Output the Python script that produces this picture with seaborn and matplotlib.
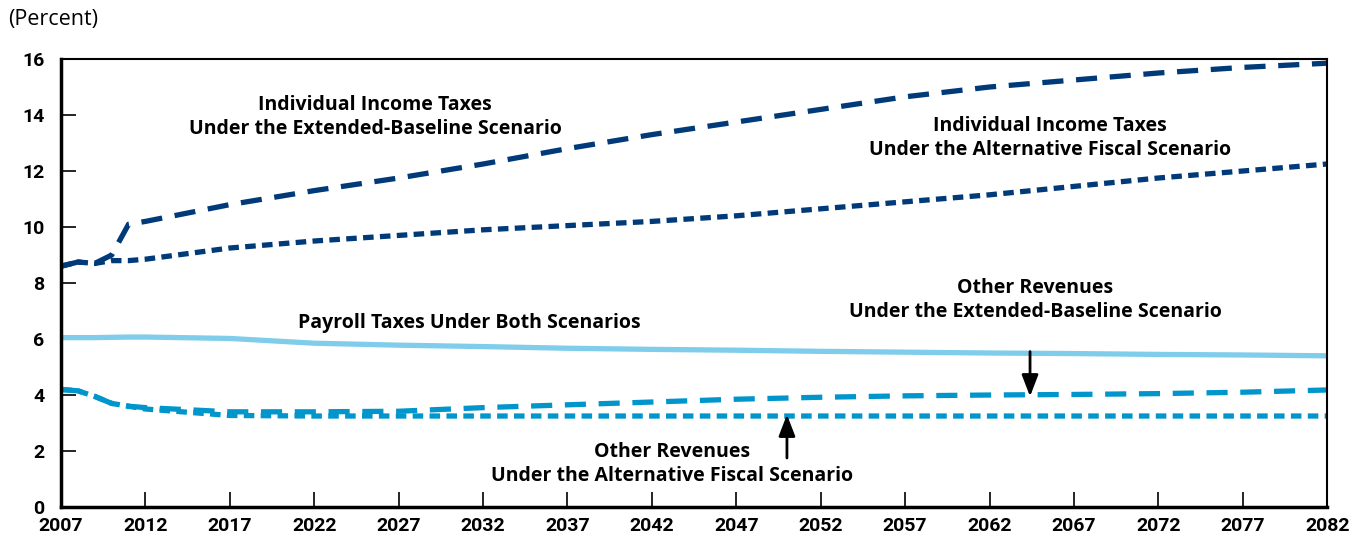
import matplotlib.pyplot as plt
import pandas as pd
import seaborn as sns

years = [2007, 2008, 2009, 2010, 2011, 2012, 2017, 2022, 2027, 2032,
         2037, 2042, 2047, 2052, 2057, 2062, 2067, 2072, 2077, 2082]

income_ext = [8.6, 8.75, 8.7, 9.0, 10.1, 10.2, 10.8, 11.3, 11.75, 12.25,
              12.8, 13.3, 13.75, 14.2, 14.65, 15.0, 15.25, 15.5, 15.7, 15.85]
income_alt = [8.6, 8.75, 8.7, 8.8, 8.8, 8.85, 9.25, 9.5, 9.7, 9.9,
              10.05, 10.2, 10.4, 10.65, 10.9, 11.15, 11.45, 11.75, 12.0, 12.25]
payroll = [6.05, 6.05, 6.05, 6.06, 6.07, 6.07, 6.02, 5.85, 5.78, 5.73,
           5.67, 5.63, 5.6, 5.56, 5.53, 5.5, 5.48, 5.45, 5.43, 5.4]
other_ext = [4.2, 4.15, 3.95, 3.7, 3.6, 3.55, 3.4, 3.4, 3.42, 3.55,
             3.65, 3.75, 3.85, 3.92, 3.97, 4.0, 4.02, 4.05, 4.1, 4.18]
other_alt = [4.2, 4.15, 3.95, 3.7, 3.6, 3.5, 3.27, 3.25, 3.25, 3.25,
             3.25, 3.25, 3.25, 3.25, 3.25, 3.25, 3.25, 3.25, 3.25, 3.25]

xticks = list(range(2007, 2083, 5))
yticks = list(range(0, 17, 2))

navy = "#003a78"
mid_blue = "#0096cb"
light_blue = "#7fcdeb"

sns.set_style("ticks")
plt.rcParams["font.family"] = ["Open Sans", "DejaVu Sans"]
plt.rcParams["text.color"] = "black"

fig = plt.figure(figsize=(13.57, 5.54), dpi=100)
ax = fig.add_axes([0.045, 0.0848, 0.933, 0.8087])

df = pd.DataFrame({"year": years})
series = [
    (payroll, light_blue, None),
    (other_ext, mid_blue, (4, 2.4)),
    (other_alt, mid_blue, (2, 1.2)),
    (income_ext, navy, (4, 2.4)),
    (income_alt, navy, (2, 1.2)),
]
for vals, color, dash in series:
    sns.lineplot(x=df["year"], y=vals, ax=ax, color=color, lw=3.8)
    ln = ax.lines[-1]
    if dash:
        ln.set_dashes(dash)
    ln.set_solid_capstyle("butt")
    ln.set_dash_capstyle("butt")

ax.set_xlim(2007, 2082)
ax.set_ylim(0, 16)
ax.set_xticks(xticks)
ax.set_yticks(yticks)
ax.set_xlabel("")
ax.set_ylabel("")
ax.tick_params(axis="both", which="major", direction="in", length=11, width=1.2,
               color="black", labelcolor="black", bottom=True, left=True,
               top=False, right=False)
ax.tick_params(axis="x", pad=7)
ax.tick_params(axis="y", pad=12)
for lab in ax.get_xticklabels() + ax.get_yticklabels():
    lab.set_fontweight("bold")
    lab.set_fontsize(14)
    lab.set_family(["Liberation Sans Narrow", "Roboto", "DejaVu Sans"])

for side in ["left", "bottom"]:
    ax.spines[side].set_linewidth(2.5)
for side in ["top", "right"]:
    ax.spines[side].set_linewidth(1.5)
for sp in ax.spines.values():
    sp.set_color("black")
    sp.set_visible(True)

fs = 14
kw = dict(ha="center", va="center", fontsize=fs, fontweight="bold", linespacing=1.3)
ax.text(2025.6, 13.93, "Individual Income Taxes\nUnder the Extended-Baseline Scenario", **kw)
ax.text(2065.6, 13.18, "Individual Income Taxes\nUnder the Alternative Fiscal Scenario", **kw)
ax.text(2031.2, 6.57, "Payroll Taxes Under Both Scenarios", **kw)
ax.text(2064.7, 7.39, "Other Revenues\nUnder the Extended-Baseline Scenario", **kw)
ax.text(2043.2, 1.54, "Other Revenues\nUnder the Alternative Fiscal Scenario", **kw)

arrow = dict(arrowstyle="-|>,head_length=0.65,head_width=0.25", color="black", lw=2,
             mutation_scale=20, shrinkA=0, shrinkB=0)
ax.annotate("", xy=(2064.4, 3.95), xytext=(2064.4, 5.55), arrowprops=arrow)
ax.annotate("", xy=(2050.0, 3.3), xytext=(2050.0, 1.75), arrowprops=arrow)

fig.text(0.006, 0.965, "(Percent)", ha="left", va="center", fontsize=15.5)

fig.savefig("out.png", dpi=100)
